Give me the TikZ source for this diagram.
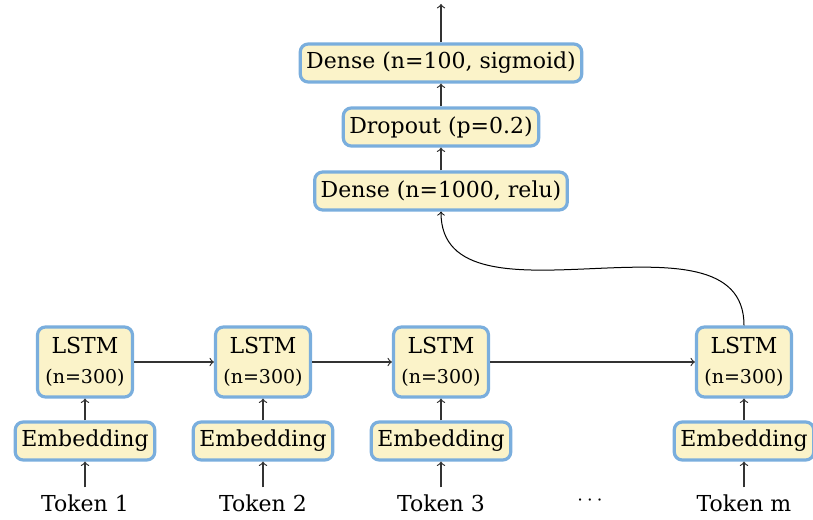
\documentclass[tikz,border=0pt]{standalone}
\usepackage{fontspec}
\setmainfont{DejaVu Serif}
\usepackage{tikz}
\usetikzlibrary{positioning}
\definecolor{boxfill}{HTML}{FBF3C9}
\definecolor{boxline}{HTML}{7AAEDD}

\begin{document}
\begin{tikzpicture}[x=0.5pt,y=0.5pt,
    font=\fontsize{11}{13}\selectfont,
    arr/.style={->,line width=0.6pt,draw=black!80},
    box/.style={draw=boxline,fill=boxfill,line width=1.6pt,rounded corners=4pt,
      minimum height=19pt,inner xsep=3pt},
    lstmbox/.style={box,align=center,minimum width=47.5pt,minimum height=35pt}]
    \useasboundingbox (0,0) rectangle (813,519);

    % one column per token
    \foreach \i/\x/\t in {1/85/1,2/263/2,3/441/3,4/744/m}{
        \node (tok\i) at (\x,16) {Token \t};
        \node[box] (emb\i) at (\x,78) {Embedding};
        \node[lstmbox] (lstm\i) at (\x,157) {LSTM\\[2pt]{\fontsize{9.5}{11}\selectfont (n=300)}};
        \draw[arr] (tok\i) -- (emb\i);
        \draw[arr] (emb\i) -- (lstm\i);
    }
    \node (dots) at (590,18) {$\cdots$};

    \draw[arr] (lstm1) -- (lstm2);
    \draw[arr] (lstm2) -- (lstm3);
    \draw[arr] (lstm3) -- (lstm4);

    % dense layers on top
    \node[box] (dense1) at (441,328) {Dense (n=1000, relu)};
    \node[box] (drop) at (441,392) {Dropout (p=0.2)};
    \node[box] (dense2) at (441,456) {Dense (n=100, sigmoid)};
    \coordinate (out) at (441,515);

    \draw[arr,line width=0.5pt,draw=black] (lstm4.north) to[out=90,in=-90] (dense1.south);
    \draw[arr] (dense1) -- (drop);
    \draw[arr] (drop) -- (dense2);
    \draw[arr] (dense2) -- (out);
\end{tikzpicture}
\end{document}
